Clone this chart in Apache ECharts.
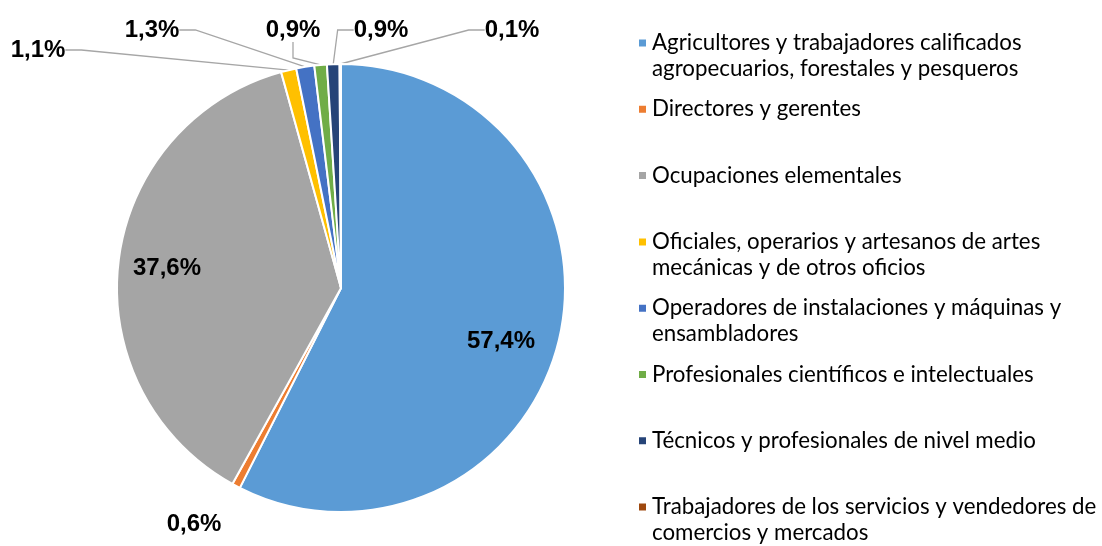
<!DOCTYPE html>
<html>
<head>
<meta charset="utf-8">
<script src="https://cdn.jsdelivr.net/npm/echarts@6/dist/echarts.min.js"></script>
<style>
  html, body { margin: 0; padding: 0; background: #fff; }
  #main { width: 1102px; height: 546px; }
</style>
</head>
<body>
<div id="main"></div>
<script>
// categorías y porcentajes
var categories = [
  'Agricultores y trabajadores calificados agropecuarios, forestales y pesqueros',
  'Directores y gerentes',
  'Ocupaciones elementales',
  'Oficiales, operarios y artesanos de artes mecánicas y de otros oficios',
  'Operadores de instalaciones y máquinas y ensambladores',
  'Profesionales científicos e intelectuales',
  'Técnicos y profesionales de nivel medio',
  'Trabajadores de los servicios y vendedores de comercios y mercados'
];
var percents = [57.4, 0.6, 37.6, 1.1, 1.3, 0.9, 0.9, 0.1];

// estilo / posiciones (no son datos)
var colors = ['#5B9BD5', '#ED7D31', '#A5A5A5', '#FFC000', '#4472C4', '#70AD47', '#264478', '#9E480E'];
var labelPos = [[501, 341], [194, 524], [167, 268], [38, 50], [152, 30], [293, 30], [381, 30], [512, 30]];
var withLine = [false, false, false, true, true, true, true, true];
var legendLines = [2, 1, 1, 2, 2, 1, 1, 2];

var pieData = categories.map(function (name, i) {
  return {
    name: name,
    value: percents[i],
    labelLine: { show: withLine[i] }
  };
});

var myChart = echarts.init(document.getElementById('main'));

var option = {
  animation: false,
  color: colors,
  legend: {
    orient: 'vertical',
    left: 637,
    top: 4,
    height: 600,
    padding: 0,
    itemGap: -11.7,
    itemWidth: 9,
    itemHeight: 9,
    icon: 'rect',
    selectedMode: false,
    data: categories,
    // cada entrada ocupa tres renglones: la primera línea queda a la altura del icono
    formatter: function (name) {
      var i = categories.indexOf(name);
      return '\u00a0\n' + name + (legendLines[i] === 1 ? '\n\u00a0' : '');
    },
    textStyle: {
      fontFamily: 'Lato',
      fontSize: 22.3,
      lineHeight: 26,
      color: '#000',
      width: 455,
      overflow: 'break'
    }
  },
  series: [
    {
      type: 'pie',
      center: [341, 288],
      radius: 224,
      startAngle: 90,
      clockwise: true,
      avoidLabelOverlap: false,
      itemStyle: {
        borderColor: '#fff',
        borderWidth: 2
      },
      label: {
        show: true,
        position: 'outside',
        fontFamily: 'Liberation Sans',
        fontWeight: 'bold',
        fontSize: 24,
        color: '#000',
        formatter: function (p) {
          return p.value.toFixed(1).replace('.', ',') + '%';
        }
      },
      labelLine: {
        length: 10,
        length2: 16,
        lineStyle: { color: '#A6A6A6', width: 1.3 }
      },
      labelLayout: function (params) {
        var p = labelPos[params.dataIndex];
        return { x: p[0], y: p[1], align: 'center', verticalAlign: 'middle' };
      },
      data: pieData
    }
  ]
};

myChart.setOption(option);
</script>
</body>
</html>
